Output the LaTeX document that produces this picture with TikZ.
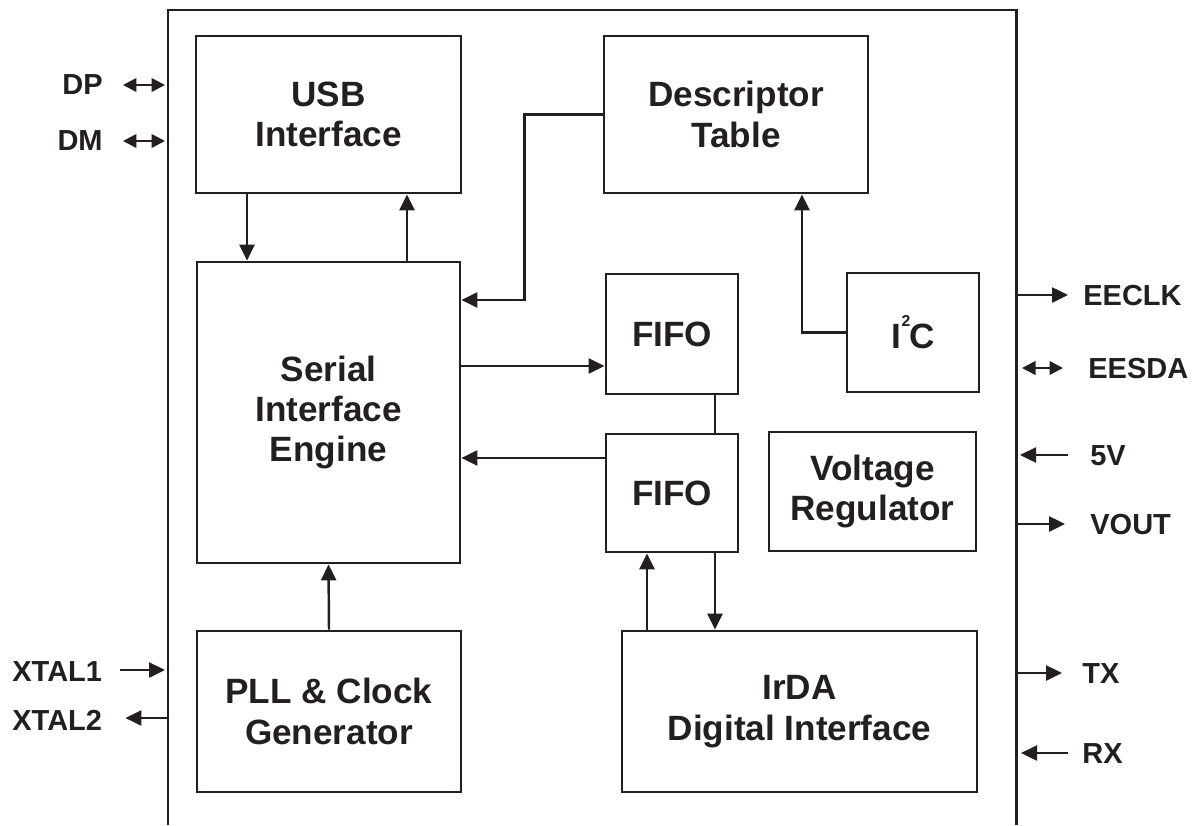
\documentclass[tikz,border=0pt]{standalone}
\usepackage{fontspec}
\setmainfont{Liberation Sans}
\usepackage{tikz}
\usetikzlibrary{arrows.meta}
\definecolor{ink}{HTML}{231F20}

\begin{document}
\begin{tikzpicture}[x=0.02cm, y=-0.02cm,
  block/.style={draw=ink, line width=1.6pt, align=center, inner sep=0pt,
    text=ink, font=\bfseries\fontsize{20}{23}\selectfont},
  pin/.style={inner sep=0pt, text=ink, font=\bfseries\fontsize{16.5}{19}\selectfont},
  arrow/.style={-{Triangle[length=0.32cm,width=0.30cm]}, draw=ink, line width=1.4pt},
  both/.style={{Triangle[length=0.27cm,width=0.27cm]}-{Triangle[length=0.27cm,width=0.27cm]},
    draw=ink, line width=1.4pt},
  wire/.style={draw=ink, line width=1.4pt}
]
\useasboundingbox (0,0) rectangle (1195,825);

\draw[ink, line width=1.7pt] (168,825) -- (168,10) -- (1016,10) -- (1016,825);

\node[block, minimum width=5.30cm, minimum height=3.14cm] (usb) at (328.5,114.5) {USB\\Interface};
\node[block, minimum width=5.28cm, minimum height=3.14cm] (desc) at (736,114.5) {Descriptor\\Table};
\node[block, minimum width=5.26cm, minimum height=6.02cm] (sie) at (328.5,412.5) {Serial\\Interface\\Engine};
\node[block, minimum width=2.64cm, minimum height=2.40cm] (fifo1) at (672,334) {FIFO};
\node[block, minimum width=2.64cm, minimum height=2.36cm] (fifo2) at (672,493) {FIFO};
\node[block, minimum width=2.64cm, minimum height=2.38cm] (i2c) at (913,332.5)
  {I\kern0.5pt\raisebox{0.62em}{\fontsize{9}{9}\selectfont 2}\kern-0.5ptC};
\node[block, minimum width=4.14cm, minimum height=2.38cm] (vreg) at (872.5,491.5) {Voltage\\Regulator};
\node[block, minimum width=5.28cm, minimum height=3.22cm] (pll) at (329,711.5) {PLL \& Clock\\Generator};
\node[block, minimum width=7.10cm, minimum height=3.22cm] (irda) at (799.5,711.5) {IrDA\\Digital Interface};

\draw[arrow] ([xshift=-1.63cm]usb.south) -- ([xshift=-1.63cm]usb.south |- sie.north);
\draw[arrow] ([xshift=1.57cm]sie.north) -- ([xshift=1.57cm]sie.north |- usb.south);
\draw[arrow] (desc.west) -- ++(-1.56cm,0) |- ([yshift=2.25cm]sie.east);
\coordinate (f1in) at ([yshift=-0.64cm]fifo1.west);
\coordinate (f2out) at ([yshift=0.70cm]fifo2.west);
\draw[arrow] (f1in -| sie.east) -- (f1in);
\draw[arrow] (f2out) -- (f2out -| sie.east);
\draw[wire] ([xshift=0.86cm]fifo1.south) -- ([xshift=0.86cm]fifo2.north);
\coordinate (up) at ([xshift=-0.50cm]fifo2.south);
\coordinate (dn) at ([xshift=0.86cm]fifo2.south);
\draw[arrow] (up |- irda.north) -- (up);
\draw[arrow] (dn) -- (dn |- irda.north);
\draw[arrow] (i2c.west) -| ([xshift=1.32cm]desc.south);
\draw[arrow] (pll.north) -- (sie.south);

\node[pin, anchor=east] (dp) at (103,85) {DP};
\node[pin, anchor=east] (dm) at (103,141) {DM};
\node[pin, anchor=west] (xtal1) at (12,672) {XTAL1};
\node[pin, anchor=west] (xtal2) at (12,720) {XTAL2};
\coordinate (dpw) at (165,85);
\coordinate (dmw) at (165,141);
\coordinate (xtal1w) at (165,670);
\coordinate (xtal2w) at (168,718);
\draw[both] ([xshift=0.40cm]dp.east) -- (dpw);
\draw[both] ([xshift=0.40cm]dm.east) -- (dmw);
\draw[arrow] (xtal1.east |- xtal1w) ++(0.36cm,0) -- (xtal1w);
\draw[arrow] (xtal2w) -- ([xshift=0.46cm]xtal2.east |- xtal2w);

\node[pin, anchor=west] (eeclk) at (1083,296) {EECLK};
\node[pin, anchor=west] (eesda) at (1088,369) {EESDA};
\node[pin, anchor=west] (v5) at (1090,456) {5V};
\node[pin, anchor=west] (vout) at (1090,525) {VOUT};
\node[pin, anchor=west] (tx) at (1082,674) {TX};
\node[pin, anchor=west] (rx) at (1082,754) {RX};
\coordinate (eeclkw) at (1016,295);
\coordinate (eesdaw) at (1022,368);
\coordinate (v5w) at (1020,455);
\coordinate (voutw) at (1016,524);
\coordinate (txw) at (1016,673);
\coordinate (rxw) at (1021,753);
\draw[arrow] (eeclkw) -- ([xshift=-0.30cm]eeclk.west |- eeclkw);
\draw[both] (eesdaw) -- ([xshift=-0.50cm]eesda.west |- eesdaw);
\draw[arrow] ([xshift=-0.44cm]v5.west |- v5w) -- (v5w);
\draw[arrow] (voutw) -- ([xshift=-0.50cm]vout.west |- voutw);
\draw[arrow] (txw) -- ([xshift=-0.40cm]tx.west |- txw);
\draw[arrow] ([xshift=-0.28cm]rx.west |- rxw) -- (rxw);
\end{tikzpicture}
\end{document}
